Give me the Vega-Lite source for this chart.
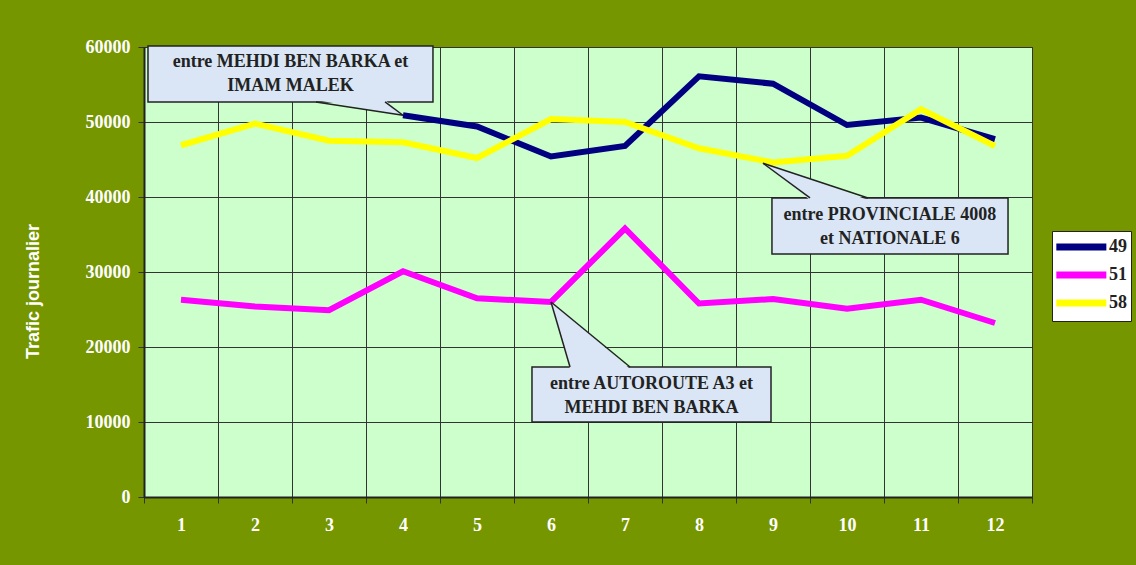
{
  "$schema": "https://vega.github.io/schema/vega-lite/v6.json",
  "width": 888,
  "height": 450,
  "autosize": {"type": "none"},
  "padding": {"left": 144, "top": 47, "right": 104, "bottom": 68},
  "background": "#769600",
  "config": {"view": {"fill": "#ccffcc", "stroke": "#333333", "strokeWidth": 1}},
  "datasets": {
    "traffic": [
      {"mois": 4, "serie": "49", "trafic": 50900},
      {"mois": 5, "serie": "49", "trafic": 49400},
      {"mois": 6, "serie": "49", "trafic": 45400},
      {"mois": 7, "serie": "49", "trafic": 46800},
      {"mois": 8, "serie": "49", "trafic": 56100},
      {"mois": 9, "serie": "49", "trafic": 55100},
      {"mois": 10, "serie": "49", "trafic": 49600},
      {"mois": 11, "serie": "49", "trafic": 50600},
      {"mois": 12, "serie": "49", "trafic": 47700},
      {"mois": 1, "serie": "51", "trafic": 26300},
      {"mois": 2, "serie": "51", "trafic": 25400},
      {"mois": 3, "serie": "51", "trafic": 24900},
      {"mois": 4, "serie": "51", "trafic": 30100},
      {"mois": 5, "serie": "51", "trafic": 26500},
      {"mois": 6, "serie": "51", "trafic": 26000},
      {"mois": 7, "serie": "51", "trafic": 35800},
      {"mois": 8, "serie": "51", "trafic": 25800},
      {"mois": 9, "serie": "51", "trafic": 26400},
      {"mois": 10, "serie": "51", "trafic": 25100},
      {"mois": 11, "serie": "51", "trafic": 26300},
      {"mois": 12, "serie": "51", "trafic": 23200},
      {"mois": 1, "serie": "58", "trafic": 46900},
      {"mois": 2, "serie": "58", "trafic": 49800},
      {"mois": 3, "serie": "58", "trafic": 47500},
      {"mois": 4, "serie": "58", "trafic": 47300},
      {"mois": 5, "serie": "58", "trafic": 45200},
      {"mois": 6, "serie": "58", "trafic": 50400},
      {"mois": 7, "serie": "58", "trafic": 50000},
      {"mois": 8, "serie": "58", "trafic": 46500},
      {"mois": 9, "serie": "58", "trafic": 44600},
      {"mois": 10, "serie": "58", "trafic": 45500},
      {"mois": 11, "serie": "58", "trafic": 51700},
      {"mois": 12, "serie": "58", "trafic": 46800}
    ],
    "boxes": [
      {"x1": 0.554, "x2": 4.405, "y1": 60130, "y2": 52670, "tx": 2.48, "ty": 58000, "label": "entre MEHDI BEN BARKA et\nIMAM MALEK"},
      {"x1": 8.986, "x2": 12.176, "y1": 39870, "y2": 32400, "tx": 10.58, "ty": 37600, "label": "entre PROVINCIALE 4008\net NATIONALE 6"},
      {"x1": 5.743, "x2": 8.973, "y1": 17330, "y2": 10000, "tx": 7.358, "ty": 15100, "label": "entre AUTOROUTE A3 et\nMEHDI BEN BARKA"}
    ],
    "wedges": [
      {"w": "1", "wx": 2.824, "wy1": 52930, "wy2": 52930},
      {"w": "1", "wx": 3.757, "wy1": 51290, "wy2": 52930},
      {"w": "1", "wx": 4.0, "wy1": 50900, "wy2": 50900},
      {"w": "2", "wx": 8.865, "wy1": 44500, "wy2": 44500},
      {"w": "2", "wx": 9.5, "wy1": 42440, "wy2": 39600},
      {"w": "2", "wx": 10.284, "wy1": 39600, "wy2": 39600},
      {"w": "3", "wx": 6.0, "wy1": 26000, "wy2": 26000},
      {"w": "3", "wx": 6.257, "wy1": 23990, "wy2": 17060},
      {"w": "3", "wx": 7.068, "wy1": 17060, "wy2": 17060}
    ],
    "edges": [
      {"e": "1a", "ex": 2.824, "ey": 52670},
      {"e": "1a", "ex": 4.0, "ey": 50900},
      {"e": "1b", "ex": 3.757, "ey": 52670},
      {"e": "1b", "ex": 4.0, "ey": 50900},
      {"e": "2a", "ex": 9.5, "ey": 39870},
      {"e": "2a", "ex": 8.865, "ey": 44500},
      {"e": "2b", "ex": 10.284, "ey": 39870},
      {"e": "2b", "ex": 8.865, "ey": 44500},
      {"e": "3a", "ex": 6.257, "ey": 17330},
      {"e": "3a", "ex": 6.0, "ey": 26000},
      {"e": "3b", "ex": 7.068, "ey": 17330},
      {"e": "3b", "ex": 6.0, "ey": 26000}
    ]
  },
  "layer": [
    {
      "data": {"name": "traffic"},
      "mark": {"type": "line", "strokeWidth": 6},
      "encoding": {
        "x": {
          "field": "mois",
          "type": "ordinal",
          "scale": {"type": "band", "paddingInner": 0, "paddingOuter": 0, "domain": [1,2,3,4,5,6,7,8,9,10,11,12]},
          "axis": {
            "title": null,
            "tickBand": "extent",
            "grid": true,
            "gridColor": "#333333",
            "gridOpacity": 1,
            "gridWidth": 1,
            "domainColor": "#222222",
            "domainWidth": 2,
            "tickColor": "#333333",
            "tickSize": 6,
            "labelAngle": 0,
            "labelFont": "Liberation Serif",
            "labelFontWeight": "bold",
            "labelFontSize": 18,
            "labelColor": "white",
            "labelPadding": 13
          }
        },
        "y": {
          "field": "trafic",
          "type": "quantitative",
          "scale": {"domain": [0, 60000], "nice": false},
          "axis": {
            "values": [0, 10000, 20000, 30000, 40000, 50000, 60000],
            "format": "d",
            "grid": true,
            "gridColor": "#333333",
            "gridOpacity": 1,
            "gridWidth": 1,
            "domainColor": "#222222",
            "domainWidth": 2,
            "tickColor": "#333333",
            "tickSize": 6,
            "labelFont": "Liberation Serif",
            "labelFontWeight": "bold",
            "labelFontSize": 18,
            "labelColor": "white",
            "labelPadding": 8,
            "title": "Trafic journalier",
            "titleFont": "Liberation Sans",
            "titleFontWeight": "bold",
            "titleFontSize": 18,
            "titleColor": "white",
            "titleAngle": -90,
            "titleAlign": "center",
            "titleBaseline": "middle",
            "titleX": -111,
            "titleY": 244
          }
        },
        "color": {
          "field": "serie",
          "type": "nominal",
          "scale": {"domain": ["49", "51", "58"], "range": ["#000080", "#ff00ff", "#ffff00"]},
          "legend": {
            "orient": "none",
            "legendX": 908,
            "legendY": 184,
            "title": null,
            "symbolType": "M-1.4,0H4.6",
            "symbolStrokeWidth": 7,
            "symbolSize": 278,
            "fillColor": "white",
            "strokeColor": "#222222",
            "padding": 4,
            "labelFont": "Liberation Serif",
            "labelFontWeight": "bold",
            "labelFontSize": 18,
            "labelColor": "#222222",
            "labelOffset": 29,
            "rowPadding": 0
          }
        }
      }
    },
    {
      "data": {"name": "boxes"},
      "mark": {"type": "rect", "fill": "#dae6f5", "stroke": "#222222", "strokeWidth": 1.5},
      "encoding": {
        "x": {"field": "x1", "type": "quantitative", "scale": {"domain": [0.5, 12.5], "nice": false, "zero": false}, "axis": null},
        "x2": {"field": "x2"},
        "y": {"field": "y1", "type": "quantitative", "scale": {"domain": [0, 60000], "nice": false}, "axis": null},
        "y2": {"field": "y2"}
      }
    },
    {
      "data": {"name": "wedges"},
      "mark": {"type": "area", "fill": "#dae6f5", "orient": "vertical"},
      "encoding": {
        "x": {"field": "wx", "type": "quantitative", "scale": {"domain": [0.5, 12.5], "nice": false, "zero": false}, "axis": null},
        "y": {"field": "wy1", "type": "quantitative", "stack": null, "scale": {"domain": [0, 60000], "nice": false}, "axis": null},
        "y2": {"field": "wy2"},
        "detail": {"field": "w", "type": "nominal"}
      }
    },
    {
      "data": {"name": "edges"},
      "mark": {"type": "line", "stroke": "#222222", "strokeWidth": 1.5},
      "encoding": {
        "x": {"field": "ex", "type": "quantitative", "scale": {"domain": [0.5, 12.5], "nice": false, "zero": false}, "axis": null},
        "y": {"field": "ey", "type": "quantitative", "scale": {"domain": [0, 60000], "nice": false}, "axis": null},
        "detail": {"field": "e", "type": "nominal"}
      }
    },
    {
      "data": {"name": "boxes"},
      "mark": {"type": "text", "font": "Liberation Serif", "fontWeight": "bold", "fontSize": 18, "color": "#222222", "lineBreak": "\n", "lineHeight": 24, "align": "center", "baseline": "middle"},
      "encoding": {
        "x": {"field": "tx", "type": "quantitative", "scale": {"domain": [0.5, 12.5], "nice": false, "zero": false}, "axis": null},
        "y": {"field": "ty", "type": "quantitative", "scale": {"domain": [0, 60000], "nice": false}, "axis": null},
        "text": {"field": "label"}
      }
    }
  ],
  "resolve": {"scale": {"x": "independent", "y": "independent"}}
}
